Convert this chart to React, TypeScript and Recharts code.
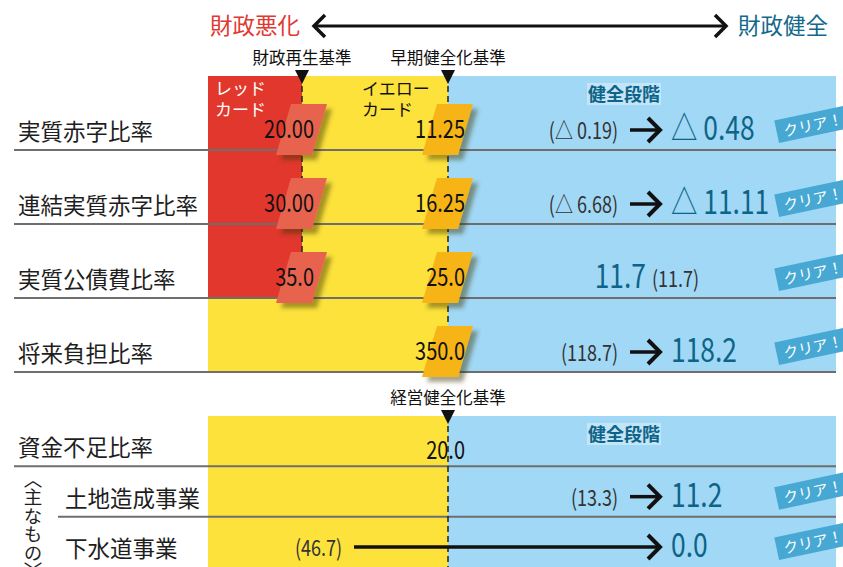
import React from "react";
import {
  ComposedChart,
  XAxis,
  YAxis,
  ReferenceArea,
  ReferenceLine,
  ReferenceDot,
  Scatter,
  Customized,
} from "recharts";

// 健全化判断比率
const INDICATORS = ["実質赤字比率", "連結実質赤字比率", "実質公債費比率", "将来負担比率"];
const RECOVERY_LIMITS = [20.0, 30.0, 35.0, null]; // 財政再生基準
const EARLY_LIMITS = [11.25, 16.25, 25.0, 350.0]; // 早期健全化基準
const DECIMALS = [2, 2, 1, 1];
const PREV_RATIOS = [-0.19, -6.68, 11.7, 118.7]; // 前年度
const CUR_RATIOS = [-0.48, -11.11, 11.7, 118.2]; // 今年度

// 資金不足比率
const SHORTFALL_LABEL = "資金不足比率";
const SHORTFALL_LIMIT = 20.0; // 経営健全化基準
const ENTERPRISES = ["土地造成事業", "下水道事業"];
const ENT_PREV = [13.3, 46.7];
const ENT_CUR = [11.2, 0.0];

const W = 843;
const JP = "'Noto Sans CJK JP', 'Noto Sans', sans-serif";
const RED = "#E1372C";
const YELLOW = "#FDE23C";
const BLUE = "#A1D8F5";
const TEAL = "#0D6488";
const LINE = "#6e6e6e";

// horizontal layout (x axis units)
const COL = {
  label: 18,
  subLabel: 65,
  lineStart: 14,
  subLineStart: 58,
  zoneStart: 208,
  recovery: 302,
  early: 448,
  zoneEnd: 836,
  prevYellow: 342,
  prevBlue: 618,
  arrowGap: 12,
  arrowEnd: 660,
  cur: 671,
  same: 646,
  clear: 811,
};

const fmt = (v: number, d: number) =>
  v < 0 ? `△ ${Math.abs(v).toFixed(d)}` : v.toFixed(d);

type Row = { name: string; y: number; early: number; d: number; prev: number; cur: number; recovery?: number | null };

const topRows: Row[] = INDICATORS.map((name, i) => ({
  name,
  y: i + 1,
  recovery: RECOVERY_LIMITS[i],
  early: EARLY_LIMITS[i],
  d: DECIMALS[i],
  prev: PREV_RATIOS[i],
  cur: CUR_RATIOS[i],
}));
const subRows: Row[] = ENTERPRISES.map((name, i) => ({
  name,
  y: i + 2,
  early: SHORTFALL_LIMIT,
  d: 1,
  prev: ENT_PREV[i],
  cur: ENT_CUR[i],
}));
const redRows = RECOVERY_LIMITS.filter((v) => v != null).length;

const prevX = (r: Row) =>
  r.prev === r.cur ? COL.same + 6 : r.prev > r.early ? COL.prevYellow : COL.prevBlue;
const prevPoints = (rows: Row[]) =>
  rows.map((r) => ({ x: prevX(r), y: r.y, text: `(${fmt(r.prev, r.d)})`, anchor: r.prev === r.cur ? "start" : "end" }));
const curPoints = (rows: Row[]) =>
  rows.map((r) => ({
    x: r.prev === r.cur ? COL.same : COL.cur,
    y: r.y,
    text: fmt(r.cur, r.d),
    anchor: r.prev === r.cur ? "end" : "start",
  }));
const clearPoints = (rows: Row[]) =>
  rows.filter((r) => r.cur < r.early).map((r) => ({ x: COL.clear, y: r.y }));

const CondensedText = ({ x, y, anchor = "start", size, fill, sx = 0.8, weight = 400, children }: any) => (
  <text
    transform={`translate(${x},${y}) scale(${sx},1)`}
    textAnchor={anchor}
    fontSize={size}
    fill={fill}
    fontFamily={JP}
    fontWeight={weight}
  >
    {children}
  </text>
);

const RowLabel = ({ cx, cy, payload }: any) => (
  <text x={cx} y={cy - 10} fontSize={22.5} fill="#1e1e1e" fontFamily={JP}>
    {payload.text}
  </text>
);

const LimitBadge = ({ cx, cy, payload }: any) => {
  const top = cy - 46;
  const bot = cy + 5;
  const fill = payload.kind === "red" ? "#E7644E" : "#F6B418";
  return (
    <g>
      <polygon
        points={`${cx - 11},${top} ${cx + 25},${top} ${cx + 10},${bot} ${cx - 26},${bot}`}
        fill={fill}
        filter="url(#badgeShadow)"
      />
      <CondensedText x={cx + payload.dx} y={cy - 12} anchor="end" size={25} fill="#111">
        {payload.text}
      </CondensedText>
    </g>
  );
};

const PlainLimit = ({ cx, cy, payload }: any) => (
  <CondensedText x={cx + 17} y={cy - 7} anchor="end" size={25} fill="#111">
    {payload.text}
  </CondensedText>
);

const PrevValue = ({ cx, cy, payload }: any) => (
  <CondensedText x={cx} y={cy - 11} anchor={payload.anchor} size={22.5} fill="#333">
    {payload.text}
  </CondensedText>
);

const CurValue = ({ cx, cy, payload }: any) => (
  <CondensedText x={cx} y={cy - 10} anchor={payload.anchor} size={33} fill={TEAL}>
    {payload.text}
  </CondensedText>
);

const ClearBadge = ({ cx, cy }: any) => (
  <g transform={`translate(${cx},${cy - 25}) rotate(-12)`}>
    <rect x={-35} y={-12} width={76} height={23} fill="#47A8D3" />
    <text x={-28} y={6} fontSize={15} fill="#fff" fontFamily={JP}>
      クリア！
    </text>
  </g>
);

const ArrowLine = ({ x1, y1, x2 }: any) => {
  const y = y1 - 20;
  return (
    <g>
      <line x1={x1} y1={y} x2={x2 - 1} y2={y} stroke="#111" strokeWidth={3.5} />
      <polyline
        points={`${x2 - 12},${y - 12} ${x2},${y} ${x2 - 12},${y + 12}`}
        fill="none"
        stroke="#111"
        strokeWidth={4}
      />
    </g>
  );
};

const Marker = ({ cx, cy, text }: any) => (
  <g>
    <polygon points={`${cx - 7},${cy - 6} ${cx + 7},${cy - 6} ${cx},${cy + 8}`} fill="#111" />
    <text x={cx} y={cy - 12} textAnchor="middle" fontSize={16.5} fill="#111" fontFamily={JP}>
      {text}
    </text>
  </g>
);

const HealthyLabel = ({ cx, cy }: any) => (
  <g>
    <rect x={cx + 139} y={cy + 7} width={74} height={22} fill="#C3E5F7" />
    <text x={cx + 140} y={cy + 25} fontSize={18} fontWeight={700} fill={TEAL} fontFamily={JP}>
      健全段階
    </text>
  </g>
);

const TwoLine = ({ cx, cy, lines, fill }: any) => (
  <g fontSize={17} fill={fill} fontFamily={JP}>
    <text x={cx} y={cy + 19}>{lines[0]}</text>
    <text x={cx} y={cy + 40}>{lines[1]}</text>
  </g>
);

const Header = () => (
  <g fontFamily={JP}>
    <text x={210} y={34} fontSize={22.5} fill="#E2382F">
      財政悪化
    </text>
    <line x1={316} y1={26} x2={724} y2={26} stroke="#111" strokeWidth={3} />
    <polyline points="325,15 314,26 325,37" fill="none" stroke="#111" strokeWidth={3.5} />
    <polyline points="715,15 726,26 715,37" fill="none" stroke="#111" strokeWidth={3.5} />
    <text x={738} y={34} fontSize={22.5} fill="#12698C">
      財政健全
    </text>
  </g>
);

const arrowsFor = (rows: Row[]) =>
  rows
    .filter((r) => r.prev !== r.cur)
    .map((r) => (
      <ReferenceLine
        key={`arrow-${r.name}`}
        segment={[
          { x: prevX(r) + COL.arrowGap, y: r.y },
          { x: COL.arrowEnd, y: r.y },
        ]}
        shape={ArrowLine}
      />
    ));

export default function App() {
  const topLabels = topRows.map((r) => ({ x: COL.label, y: r.y, text: r.name }));
  const redBadges = topRows
    .filter((r) => r.recovery != null)
    .map((r) => ({ x: COL.recovery, y: r.y, text: (r.recovery as number).toFixed(r.d), kind: "red", dx: 12 }));
  const yellowBadges = topRows.map((r) => ({ x: COL.early, y: r.y, text: r.early.toFixed(r.d), kind: "yellow", dx: 17 }));

  const subLabels = [
    { x: COL.label, y: 1, text: SHORTFALL_LABEL },
    ...subRows.map((r) => ({ x: COL.subLabel, y: r.y, text: r.name })),
  ];

  return (
    <div style={{ position: "relative", width: W, height: 567, overflow: "hidden", background: "#fff" }}>
      <style>{`body{margin:0}`}</style>
      <svg width={0} height={0} style={{ position: "absolute" }}>
        <defs>
          <filter id="badgeShadow" x="-50%" y="-50%" width="200%" height="200%">
            <feDropShadow dx="5" dy="5" stdDeviation="2" floodColor="#3d3200" floodOpacity="0.45" />
          </filter>
        </defs>
      </svg>

      {/* 資金不足比率 */}
      <div style={{ position: "absolute", left: 0, top: 372 }}>
        <ComposedChart width={W} height={195} margin={{ top: 44, right: 0, bottom: 0, left: 0 }}>
          <XAxis type="number" dataKey="x" domain={[0, W]} hide />
          <YAxis type="number" dataKey="y" domain={[0, 3]} reversed hide />
          <ReferenceArea x1={COL.zoneStart} x2={COL.early} y1={0} y2={3} fill={YELLOW} fillOpacity={1} strokeWidth={0} />
          <ReferenceArea x1={COL.early} x2={COL.zoneEnd} y1={0} y2={3} fill={BLUE} fillOpacity={1} strokeWidth={0} />
          <ReferenceLine segment={[{ x: COL.lineStart, y: 1 }, { x: COL.zoneEnd, y: 1 }]} stroke={LINE} strokeWidth={2} />
          <ReferenceLine segment={[{ x: COL.subLineStart, y: 2 }, { x: COL.zoneEnd, y: 2 }]} stroke={LINE} strokeWidth={2} />
          <ReferenceLine
            segment={[{ x: COL.early, y: 0 }, { x: COL.early, y: 3 }]}
            stroke="#222"
            strokeWidth={1.5}
            strokeDasharray="6 4"
          />
          {arrowsFor(subRows)}
          <Scatter data={subLabels} shape={RowLabel} isAnimationActive={false} />
          <Scatter data={[{ x: COL.early, y: 1, text: SHORTFALL_LIMIT.toFixed(1) }]} shape={PlainLimit} isAnimationActive={false} />
          <Scatter data={prevPoints(subRows)} shape={PrevValue} isAnimationActive={false} />
          <Scatter data={curPoints(subRows)} shape={CurValue} isAnimationActive={false} />
          <Scatter data={clearPoints(subRows)} shape={ClearBadge} isAnimationActive={false} />
          <ReferenceDot x={COL.early} y={0} shape={(p: any) => <Marker {...p} text="経営健全化基準" />} />
          <ReferenceDot x={COL.early} y={0} shape={(p: any) => <HealthyLabel {...p} />} />
          <ReferenceDot
            x={COL.label}
            y={1}
            shape={(p: any) => (
              <text
                x={p.cx + 15}
                y={p.cy + 3}
                fontSize={18.5}
                fill="#1e1e1e"
                fontFamily={JP}
                style={{ writingMode: "vertical-rl" }}
              >
                〈主なもの〉
              </text>
            )}
          />
        </ComposedChart>
      </div>

      {/* 健全化判断比率 */}
      <div style={{ position: "absolute", left: 0, top: 0 }}>
        <ComposedChart width={W} height={392} margin={{ top: 76, right: 0, bottom: 20, left: 0 }}>
          <XAxis type="number" dataKey="x" domain={[0, W]} hide />
          <YAxis type="number" dataKey="y" domain={[0, INDICATORS.length]} reversed hide />
          <ReferenceArea x1={COL.zoneStart} x2={COL.early} y1={0} y2={INDICATORS.length} fill={YELLOW} fillOpacity={1} strokeWidth={0} />
          <ReferenceArea x1={COL.zoneStart} x2={COL.recovery} y1={0} y2={redRows} fill={RED} fillOpacity={1} strokeWidth={0} />
          <ReferenceArea x1={COL.early} x2={COL.zoneEnd} y1={0} y2={INDICATORS.length} fill={BLUE} fillOpacity={1} strokeWidth={0} />
          {topRows.map((r) => (
            <ReferenceLine
              key={`line-${r.name}`}
              segment={[{ x: COL.lineStart, y: r.y }, { x: COL.zoneEnd, y: r.y }]}
              stroke={LINE}
              strokeWidth={2}
            />
          ))}
          <ReferenceLine
            segment={[{ x: COL.recovery, y: 0 }, { x: COL.recovery, y: redRows }]}
            stroke="#222"
            strokeWidth={1.5}
            strokeDasharray="6 4"
          />
          <ReferenceLine
            segment={[{ x: COL.early, y: 0 }, { x: COL.early, y: INDICATORS.length }]}
            stroke="#222"
            strokeWidth={1.5}
            strokeDasharray="6 4"
          />
          {arrowsFor(topRows)}
          <Scatter data={topLabels} shape={RowLabel} isAnimationActive={false} />
          <Scatter data={redBadges} shape={LimitBadge} isAnimationActive={false} />
          <Scatter data={yellowBadges} shape={LimitBadge} isAnimationActive={false} />
          <Scatter data={prevPoints(topRows)} shape={PrevValue} isAnimationActive={false} />
          <Scatter data={curPoints(topRows)} shape={CurValue} isAnimationActive={false} />
          <Scatter data={clearPoints(topRows)} shape={ClearBadge} isAnimationActive={false} />
          <ReferenceDot x={COL.recovery} y={0} shape={(p: any) => <Marker {...p} text="財政再生基準" />} />
          <ReferenceDot x={COL.early} y={0} shape={(p: any) => <Marker {...p} text="早期健全化基準" />} />
          <ReferenceDot
            x={COL.zoneStart}
            y={0}
            shape={(p: any) => <TwoLine cx={p.cx + 7} cy={p.cy} lines={["レッド", "カード"]} fill="#fff" />}
          />
          <ReferenceDot
            x={COL.recovery}
            y={0}
            shape={(p: any) => <TwoLine cx={p.cx + 60} cy={p.cy} lines={["イエロー", "カード"]} fill="#111" />}
          />
          <ReferenceDot x={COL.early} y={0} shape={(p: any) => <HealthyLabel {...p} />} />
          <Customized component={<Header />} />
        </ComposedChart>
      </div>
    </div>
  );
}
